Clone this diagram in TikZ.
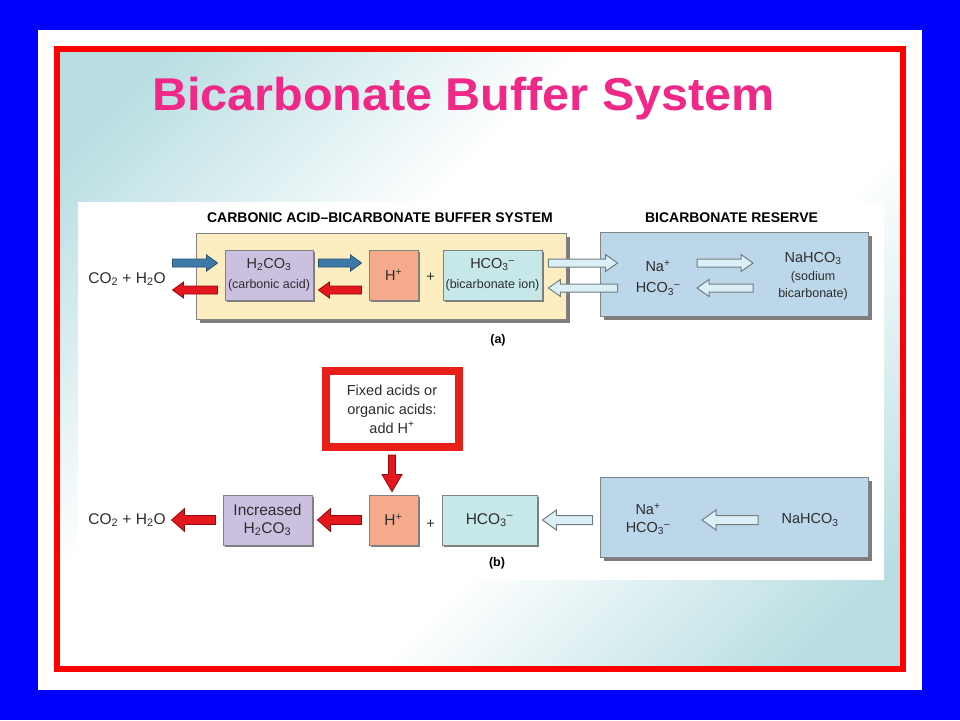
\documentclass[tikz,border=0pt]{standalone}
\usepackage{fontspec}
\setmainfont{Liberation Sans}
\usepackage{graphicx}
\usetikzlibrary{calc}
\definecolor{bgblue}{RGB}{0,0,255}
\definecolor{tealbg}{RGB}{184,222,226}
\definecolor{framered}{RGB}{255,0,0}
\definecolor{titlepink}{RGB}{240,40,136}
\definecolor{yellowfill}{RGB}{252,238,192}
\definecolor{purplefill}{RGB}{203,192,224}
\definecolor{salmonfill}{RGB}{245,170,140}
\definecolor{cyanfill}{RGB}{198,232,232}
\definecolor{resfill}{RGB}{188,214,234}
\definecolor{boxline}{RGB}{130,130,130}
\definecolor{shadowgray}{RGB}{125,125,125}
\definecolor{txt}{RGB}{45,45,45}
\definecolor{bluearrfill}{RGB}{62,122,168}
\definecolor{bluearrline}{RGB}{38,82,120}
\definecolor{redarrfill}{RGB}{228,22,30}
\definecolor{redarrline}{RGB}{150,10,15}
\definecolor{openfill}{RGB}{218,240,246}
\definecolor{openline}{RGB}{115,125,130}
\definecolor{fixedred}{RGB}{232,30,25}
\pgfdeclarehorizontalshading{diagshade}{100bp}{color(0bp)=(tealbg); color(20bp)=(tealbg); color(40bp)=(white); color(60bp)=(white); color(80bp)=(tealbg); color(100bp)=(tealbg)}
\newcommand\lblfont{\fontsize{14.5}{17}\selectfont}
\newcommand\smfont{\fontsize{12.5}{15}\selectfont}
\newcommand\bigfont{\fontsize{15.5}{18}\selectfont}
% #1 style, #2 from, #3 to, #4 shaft half width, #5 head half width, #6 head length
\newcommand\blkarrow[6]{%
  \draw[#1] let \p1=(#2), \p2=(#3),
    \n1={veclen(\x2-\x1,\y2-\y1)}, \n2={atan2(\y2-\y1,\x2-\x1)} in
    [shift={(\p1)}, rotate=\n2]
    (0,#4) -- ({\n1-#6},#4) -- ({\n1-#6},#5) -- (\n1,0) -- ({\n1-#6},-#5)
    -- ({\n1-#6},-#4) -- (0,-#4) -- cycle;}
\begin{document}
\begin{tikzpicture}[x=1pt,y=-1pt,
  every node/.style={text=txt, inner sep=0pt},
  hdr/.style={font=\fontsize{14}{16}\selectfont\bfseries, text=black},
  cbox/.style={draw=boxline, line width=0.9pt, minimum height=50pt, align=center,
    preaction={fill=shadowgray, transform canvas={xshift=2pt,yshift=-2pt}}},
  panel/.style={draw=boxline, line width=1pt,
    preaction={fill=shadowgray, transform canvas={xshift=4pt,yshift=-4pt}}},
  bluearr/.style={fill=bluearrfill, draw=bluearrline, line width=0.8pt},
  redarr/.style={fill=redarrfill, draw=redarrline, line width=0.8pt},
  openarr/.style={fill=openfill, draw=openline, line width=1pt},
  sublabel/.style={font=\fontsize{12.5}{14}\selectfont\bfseries, text=black},
]
\useasboundingbox (0,0) rectangle (960,720);
% background layers
\fill[bgblue] (0,0) rectangle (960,720);
\fill[white] (38,30) rectangle (922,690);
\shade[shading=diagshade, shading angle=-45] (57,49) rectangle (903,669);
\draw[framered, line width=5.5pt] (57,49) rectangle (903,669);
\fill[white] (78,202) rectangle (884,580);

% title
\node[anchor=base, text=titlepink, font=\fontsize{46}{50}\selectfont\bfseries] (title) at (463.5,110)
  {\scalebox{1.055}[1]{Bicarbonate Buffer System}};

% ---------- (a) ----------
\node[hdr] (hdrA) at (380,218) {CARBONIC ACID–BICARBONATE BUFFER SYSTEM};
\node[hdr] (hdrR) at (731.5,218) {BICARBONATE RESERVE};

\node[panel, fill=yellowfill, minimum width=370pt, minimum height=86pt] (buf) at (381,276) {};
\node[panel, fill=resfill, minimum width=268pt, minimum height=84pt] (resA) at (734,274) {};

\node[font=\bigfont] (co2A) at (127,279) {CO\textsubscript{2} + H\textsubscript{2}O};
\node[cbox, fill=purplefill, minimum width=88pt, font=\lblfont] (acidA) at (269,275)
  {H\textsubscript{2}CO\textsubscript{3}\\[3pt]\smfont (carbonic acid)};
\node[cbox, fill=salmonfill, minimum width=49pt, font=\lblfont] (hA) at (393.5,275) {H\textsuperscript{+}};
\node[font=\lblfont] (plusA) at (430.5,277) {+};
\node[cbox, fill=cyanfill, minimum width=99pt, font=\lblfont] (bicA) at (492.5,275)
  {HCO\textsubscript{3}\textsuperscript{–}\\[3pt]\smfont (bicarbonate ion)};

\node[font=\fontsize{14.5}{21}\selectfont, align=center] (naA) at (658,278)
  {Na\textsuperscript{+}\\HCO\textsubscript{3}\textsuperscript{–}};
\node[font=\lblfont, align=center] (nahA) at (813,276)
  {NaHCO\textsubscript{3}\\[1pt]\smfont (sodium\\\smfont bicarbonate)};

\node[sublabel] (labA) at (498,340) {(a)};

\blkarrow{bluearr}{$(acidA.west)+(-52,-12)$}{$(acidA.west)+(-7,-12)$}{4}{8}{11}
\blkarrow{redarr}{$(acidA.west)+(-7,15)$}{$(acidA.west)+(-52,15)$}{4}{8}{11}
\blkarrow{bluearr}{$(acidA.east)+(5,-12)$}{$(hA.west)+(-7,-12)$}{4}{8}{11}
\blkarrow{redarr}{$(hA.west)+(-7,15)$}{$(acidA.east)+(5,15)$}{4}{8}{11}
\blkarrow{openarr}{$(bicA.east)+(6,-12)$}{$(resA.west)+(18,-11)$}{4}{8.5}{12}
\blkarrow{openarr}{$(resA.west)+(18,14)$}{$(bicA.east)+(6,13)$}{4}{8.5}{12}
\blkarrow{openarr}{$(resA.center)+(-37,-11)$}{$(resA.center)+(19,-11)$}{4}{8.5}{12}
\blkarrow{openarr}{$(resA.center)+(19,14)$}{$(resA.center)+(-37,14)$}{4}{8.5}{12}

% ---------- (b) ----------
\node[draw=fixedred, line width=8pt, fill=white, minimum width=133pt, minimum height=76pt,
  align=center, font=\fontsize{14.5}{19}\selectfont] (fixed) at (392,409)
  {Fixed acids or\\organic acids:\\add H\textsuperscript{+}};

\node[panel, fill=resfill, minimum width=268pt, minimum height=80pt] (resB) at (734,517) {};

\node[font=\bigfont] (co2B) at (127,520) {CO\textsubscript{2} + H\textsubscript{2}O};
\node[cbox, fill=purplefill, minimum width=89pt, font=\bigfont] (acidB) at (267.5,520)
  {Increased\\H\textsubscript{2}CO\textsubscript{3}};
\node[cbox, fill=salmonfill, minimum width=49pt, font=\bigfont] (hB) at (393.5,520) {H\textsuperscript{+}};
\node[font=\lblfont] (plusB) at (430.5,524) {+};
\node[cbox, fill=cyanfill, minimum width=95pt, font=\bigfont] (bicB) at (489.5,520)
  {HCO\textsubscript{3}\textsuperscript{–}};

\node[font=\fontsize{14.5}{18}\selectfont, align=center] (naB) at (648,519)
  {Na\textsuperscript{+}\\HCO\textsubscript{3}\textsuperscript{–}};
\node[font=\lblfont] (nahB) at (810,520) {NaHCO\textsubscript{3}};

\node[sublabel] (labB) at (497,563) {(b)};

\blkarrow{redarr}{$(fixed.south)+(0,4)$}{$(hB.north)+(-1.5,-3)$}{3.5}{10}{17}
\blkarrow{redarr}{$(acidB.west)+(-7,0)$}{$(acidB.west)+(-51,0)$}{4.5}{11.5}{13}
\blkarrow{redarr}{$(hB.west)+(-7,0)$}{$(acidB.east)+(5,0)$}{4.5}{11.5}{13}
\blkarrow{openarr}{$(resB.west)+(-7,3)$}{$(bicB.east)+(5,0)$}{4.5}{10}{14}
\blkarrow{openarr}{$(resB.center)+(24,3)$}{$(resB.center)+(-32,3)$}{4.5}{10}{14}
\end{tikzpicture}
\end{document}
